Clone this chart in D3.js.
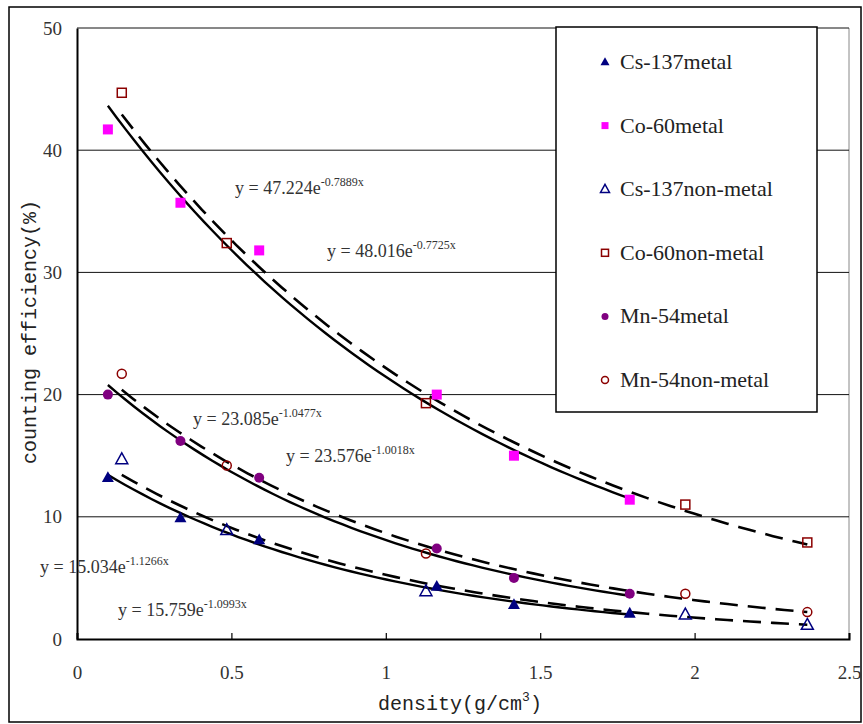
<!DOCTYPE html>
<html>
<head>
<meta charset="utf-8">
<script src="https://cdn.jsdelivr.net/npm/d3@7/dist/d3.min.js"></script>
<style>
  html, body { margin: 0; padding: 0; background: #fff; }
</style>
</head>
<body>
<svg id="chart" width="863" height="724"></svg>
<script>
// densities (g/cm3)
const metalX    = [0.10, 0.335, 0.59, 1.165, 1.415, 1.79];
const nonMetalX = [0.145, 0.485, 1.13, 1.97, 2.365];

// counting efficiency (%)
const cs137Metal    = [13.2, 9.9, 8.1, 4.3, 2.8, 2.1];
const co60Metal     = [41.7, 35.7, 31.8, 20.0, 15.0, 11.4];
const mn54Metal     = [20.0, 16.2, 13.2, 7.4, 5.0, 3.7];
const cs137NonMetal = [14.7, 8.9, 3.9, 2.0, 1.15];
const co60NonMetal  = [44.7, 32.4, 19.3, 11.0, 7.9];
const mn54NonMetal  = [21.7, 14.2, 7.0, 3.7, 2.2];

// exponential trendlines y = a * e^(b x), as printed on the chart
const fits = [
  { a: 47.224, b: -0.7889, from: 0.10,  to: 1.79,  dashed: false, label: [235, 188] },
  { a: 48.016, b: -0.7725, from: 0.145, to: 2.365, dashed: true,  label: [327, 251] },
  { a: 23.085, b: -1.0477, from: 0.10,  to: 1.79,  dashed: false, label: [193, 419] },
  { a: 23.576, b: -1.0018, from: 0.145, to: 2.365, dashed: true,  label: [286, 456] },
  { a: 15.034, b: -1.1266, from: 0.10,  to: 1.79,  dashed: false, label: [40, 567] },
  { a: 15.759, b: -1.0993, from: 0.145, to: 2.365, dashed: true,  label: [118, 610] },
];

const xTicks = [0, 0.5, 1, 1.5, 2, 2.5];
const yTicks = [0, 10, 20, 30, 40, 50];

const series = [
  { name: 'Cs-137metal',     xs: metalX,    ys: cs137Metal,    shape: 'triangle', fill: '#000080', stroke: 'none' },
  { name: 'Co-60metal',      xs: metalX,    ys: co60Metal,     shape: 'square',   fill: '#ff00ff', stroke: 'none' },
  { name: 'Cs-137non-metal', xs: nonMetalX, ys: cs137NonMetal, shape: 'triangle', fill: 'none',    stroke: '#000080' },
  { name: 'Co-60non-metal',  xs: nonMetalX, ys: co60NonMetal,  shape: 'square',   fill: 'none',    stroke: '#8b0000' },
  { name: 'Mn-54metal',      xs: metalX,    ys: mn54Metal,     shape: 'circle',   fill: '#800080', stroke: 'none' },
  { name: 'Mn-54non-metal',  xs: nonMetalX, ys: mn54NonMetal,  shape: 'circle',   fill: 'none',    stroke: '#8b0000' },
];

const SERIF = '"Liberation Serif", "Times New Roman", serif';
const MONO = '"Liberation Mono", monospace';

const svg = d3.select('#chart');
const x = d3.scaleLinear().domain([0, 2.5]).range([77, 849]);
const y = d3.scaleLinear().domain([0, 50]).range([639, 28]);

// outer frame
svg.append('rect')
  .attr('x', 9).attr('y', 7).attr('width', 852).attr('height', 715)
  .attr('fill', '#fff').attr('stroke', '#000').attr('stroke-width', 1.5);

// right plot border
svg.append('line')
  .attr('x1', x(2.5)).attr('x2', x(2.5)).attr('y1', y(50)).attr('y2', y(0))
  .attr('stroke', '#888').attr('stroke-width', 1);

// gridlines
svg.append('g')
  .selectAll('line')
  .data(yTicks.filter(d => d > 0))
  .join('line')
  .attr('x1', x(0)).attr('x2', x(2.5))
  .attr('y1', d => y(d)).attr('y2', d => y(d))
  .attr('stroke', '#111').attr('stroke-width', 1);

// axes
const yAxis = svg.append('g')
  .attr('transform', `translate(${x(0)},0)`)
  .call(d3.axisLeft(y).tickValues(yTicks).tickSize(0).tickPadding(15).tickFormat(d3.format('d')));
yAxis.select('.domain').attr('stroke', '#000').attr('stroke-width', 2);
yAxis.selectAll('text').style('font-family', SERIF).style('font-size', '19px').attr('fill', '#333');

const xAxis = svg.append('g')
  .attr('transform', `translate(0,${y(0)})`)
  .call(d3.axisBottom(x).tickValues(xTicks).tickSize(-6).tickPadding(27).tickFormat(d => d));
xAxis.select('.domain').attr('stroke', '#000').attr('stroke-width', 2);
xAxis.selectAll('.tick line').attr('stroke', '#000').attr('stroke-width', 1.2);
xAxis.selectAll('text').style('font-family', SERIF).style('font-size', '19px').attr('fill', '#333');

// trendlines
const line = d3.line().x(d => x(d[0])).y(d => y(d[1]));
svg.append('g')
  .selectAll('path')
  .data(fits)
  .join('path')
  .attr('d', f => line(d3.range(0, 61).map(i => {
    const xv = f.from + (f.to - f.from) * i / 60;
    return [xv, f.a * Math.exp(f.b * xv)];
  })))
  .attr('fill', 'none')
  .attr('stroke', '#000')
  .attr('stroke-width', f => f.dashed ? 2.6 : 2.4)
  .attr('stroke-dasharray', f => f.dashed ? '18,10' : null);

// markers
function marker(g, shape, size) {
  if (shape === 'triangle') {
    const h = size * 0.9;
    return g.append('path').attr('d', `M0,${-h * 0.6}L${size / 2},${h * 0.4}L${-size / 2},${h * 0.4}Z`);
  }
  if (shape === 'square') {
    return g.append('rect').attr('x', -size / 2).attr('y', -size / 2).attr('width', size).attr('height', size);
  }
  return g.append('circle').attr('r', size / 2);
}

series.forEach(s => {
  const pts = s.xs.map((xv, i) => [xv, s.ys[i]]);
  svg.append('g').selectAll('g')
    .data(pts)
    .join('g')
    .attr('transform', d => `translate(${x(d[0])},${y(d[1])})`)
    .each(function () {
      const open = s.fill === 'none';
      const size = s.shape === 'circle' ? (open ? 9 : 10) : (s.shape === 'square' ? (open ? 9 : 10) : 12);
      marker(d3.select(this), s.shape, size)
        .attr('fill', open ? '#fff' : s.fill)
        .attr('fill-opacity', open ? 0 : 1)
        .attr('stroke', s.stroke)
        .attr('stroke-width', 1.5);
    });
});

// equation labels
fits.forEach(f => {
  const t = svg.append('text')
    .attr('x', f.label[0]).attr('y', f.label[1] + 6)
    .attr('fill', '#333')
    .style('font-family', SERIF).style('font-size', '18px');
  t.append('tspan').text(`y = ${f.a.toFixed(3)}e`);
  t.append('tspan').style('font-size', '12px').attr('dy', -8).text(`${f.b.toFixed(4)}x`);
});

// legend
svg.append('rect')
  .attr('x', 556).attr('y', 27).attr('width', 261).attr('height', 385)
  .attr('fill', '#fff').attr('stroke', '#000').attr('stroke-width', 1.5);

const legendY = d3.scalePoint().domain(series.map(s => s.name)).range([62, 380]);
series.forEach(s => {
  const g = svg.append('g').attr('transform', `translate(605,${legendY(s.name)})`);
  const open = s.fill === 'none';
  const size = s.shape === 'circle' ? 7 : (s.shape === 'square' ? 7 : 9);
  marker(g, s.shape, size)
    .attr('fill', open ? '#fff' : s.fill)
    .attr('stroke', s.stroke)
    .attr('stroke-width', 1.5);
  g.append('text')
    .attr('x', 15).attr('y', 7)
    .attr('fill', '#222')
    .style('font-family', SERIF).style('font-size', '22px')
    .text(s.name);
});

// axis titles
svg.append('text')
  .attr('transform', 'translate(36,332) rotate(-90)')
  .attr('text-anchor', 'middle')
  .attr('fill', '#222')
  .style('font-family', MONO).style('font-size', '20px')
  .text('counting efficiency(%)');

const xt = svg.append('text')
  .attr('x', 460).attr('y', 710)
  .attr('text-anchor', 'middle')
  .attr('fill', '#222')
  .style('font-family', MONO).style('font-size', '20px');
xt.append('tspan').text('density(g/cm');
xt.append('tspan').style('font-size', '13px').attr('dy', -9).text('3');
xt.append('tspan').attr('dy', 9).text(')');
</script>
</body>
</html>
